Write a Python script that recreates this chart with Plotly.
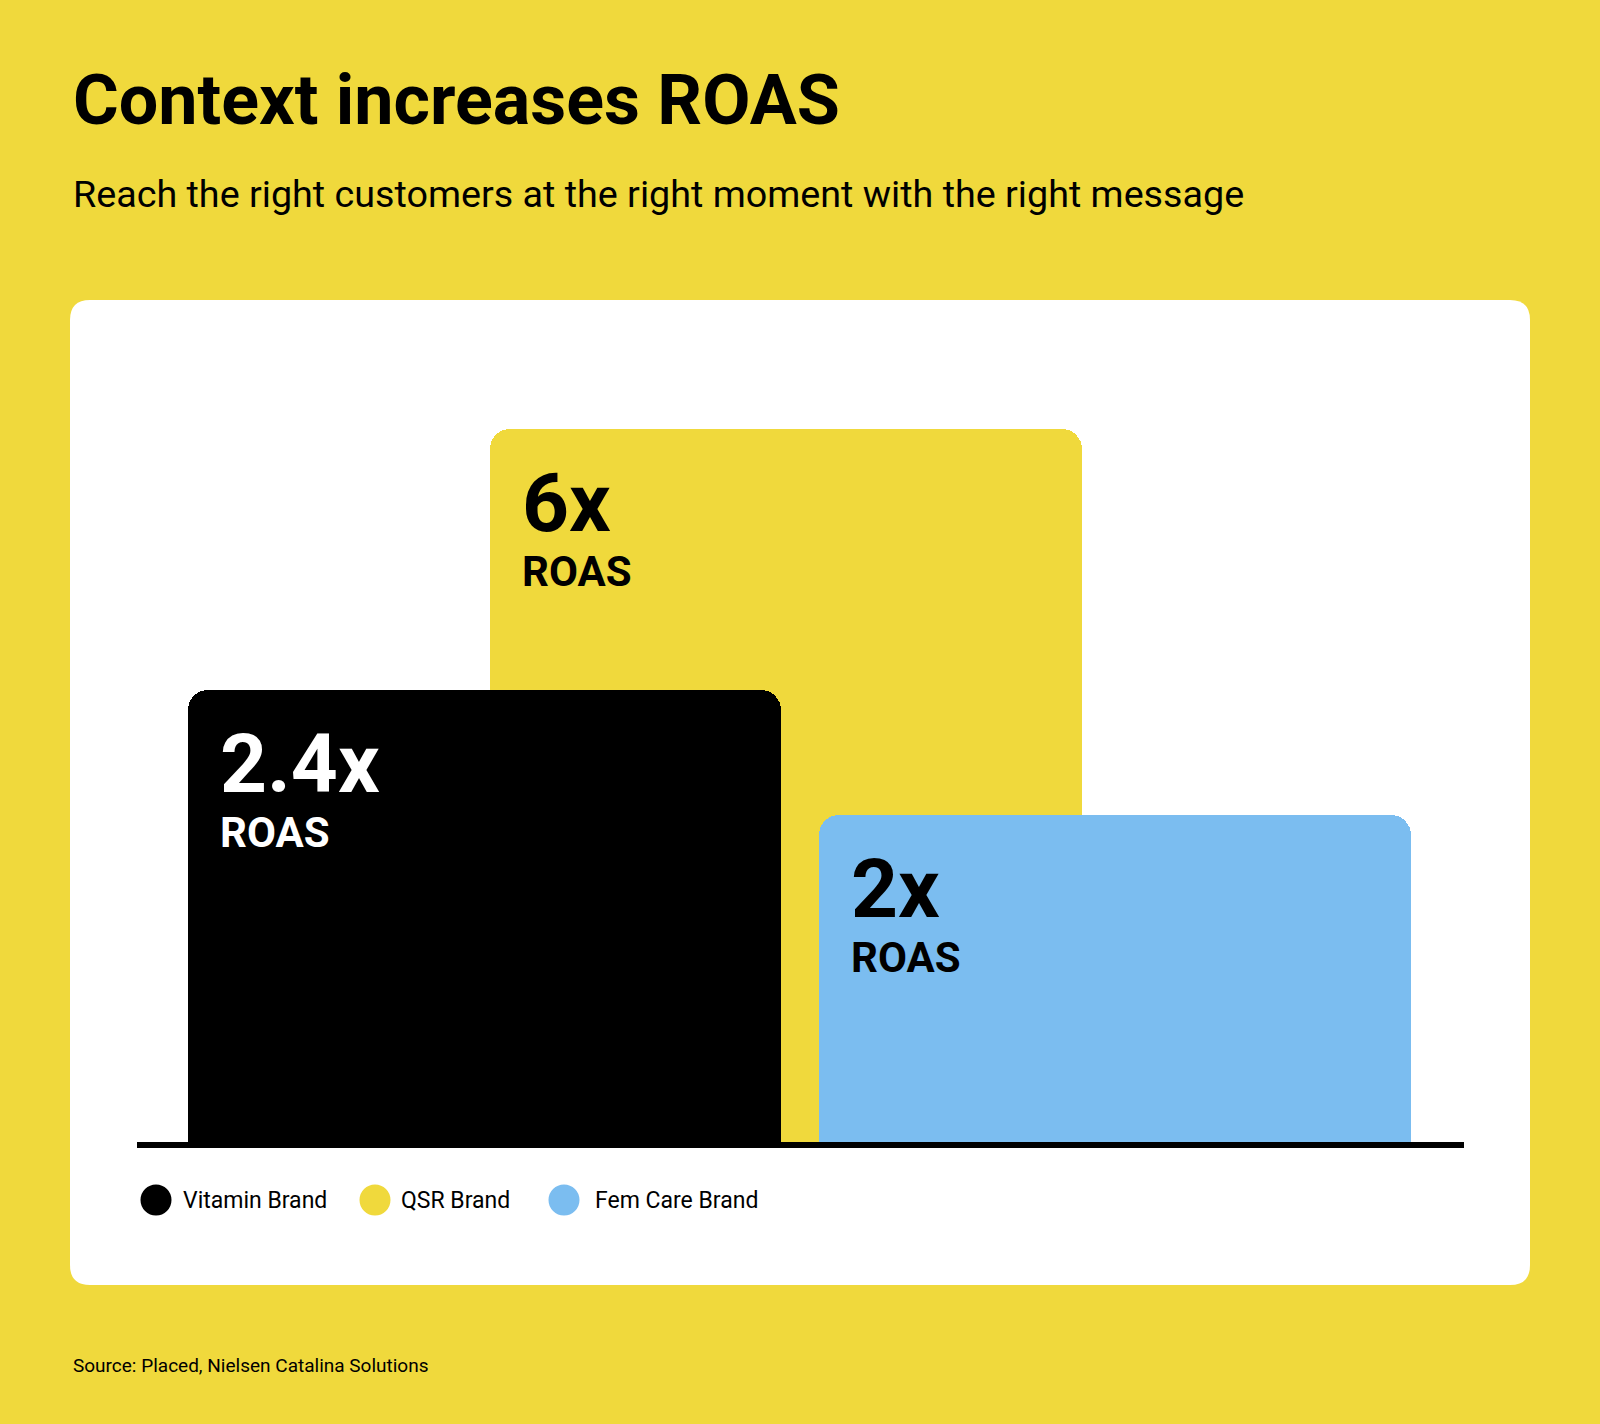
import plotly.graph_objects as go

# ---------------- data ----------------
brands = ["Vitamin Brand", "QSR Brand", "Fem Care Brand"]
roas_values = [2.4, 6, 2]
roas_labels = ["2.4x", "6x", "2x"]
# drawn bar heights (graphic is not to scale)
bar_heights = [3.8, 6.0, 2.75]
colors = ["#000000", "#F0D93C", "#7BBDF0"]
label_colors = ["#FFFFFF", "#000000", "#000000"]

title = "Context increases ROAS"
subtitle = "Reach the right customers at the right moment with the right message"
source = "Source: Placed, Nielsen Catalina Solutions"

# ---------------- layout helpers ----------------
W, H = 1600, 1424
BG = "#F0D93C"
FONT = "Roboto"


def px(x):
    return x / W


def py(y):
    return 1 - y / H


centres = [0.0, 1.0, 2.092]
bar_width = 1.965
draw_order = [1, 0, 2]  # QSR behind the others

fig = go.Figure()
for i in draw_order:
    fig.add_trace(go.Bar(
        x=[centres[i]], y=[bar_heights[i]], width=[bar_width],
        marker=dict(color=colors[i], line=dict(width=0), cornerradius=20),
        name=brands[i], showlegend=False, hoverinfo="skip",
    ))

annotations = []
for i in range(3):
    left = centres[i] - bar_width / 2
    annotations.append(dict(
        x=left, y=bar_heights[i], xref="x", yref="y", xanchor="left", yanchor="top",
        xshift=30, yshift=-24, showarrow=False, align="left",
        text="<b><span style='font-size:82px'>%s</span><br>ROAS</b>" % roas_labels[i],
        font=dict(family=FONT, size=42, color=label_colors[i]),
    ))

# title, subtitle, source
annotations.append(dict(x=px(71), y=py(57), xref="paper", yref="paper", xanchor="left",
                        yanchor="top", showarrow=False, text="<b>%s</b>" % title,
                        font=dict(family=FONT, size=70, color="#000000")))
annotations.append(dict(x=px(71), y=py(170), xref="paper", yref="paper", xanchor="left",
                        yanchor="top", showarrow=False, text=subtitle,
                        font=dict(family=FONT, size=37.7, color="#000000")))
annotations.append(dict(x=px(71), y=py(1365), xref="paper", yref="paper", xanchor="left",
                        yanchor="middle", showarrow=False, text=source,
                        font=dict(family=FONT, size=19, color="#000000")))

shapes = []
# white card with rounded corners
x0, x1, y0, y1, r = 70, 1530, 300, 1285, 20
rx, ry = r / W, r / H
X0, X1, Y0, Y1 = px(x0), px(x1), py(y1), py(y0)
path = (f"M {X0+rx},{Y1} L {X1-rx},{Y1} Q {X1},{Y1} {X1},{Y1-ry} "
        f"L {X1},{Y0+ry} Q {X1},{Y0} {X1-rx},{Y0} L {X0+rx},{Y0} "
        f"Q {X0},{Y0} {X0},{Y0+ry} L {X0},{Y1-ry} Q {X0},{Y1} {X0+rx},{Y1} Z")
shapes.append(dict(type="path", path=path, xref="paper", yref="paper",
                   fillcolor="#FFFFFF", line=dict(width=0), layer="below"))

# legend: circles + labels
legend_circle_x = [156, 375, 564]
legend_text_x = [181, 399, 593]
leg_y, d = 1200, 31
for i in range(3):
    cx = legend_circle_x[i]
    shapes.append(dict(type="circle", xref="paper", yref="paper",
                       x0=px(cx - d / 2), x1=px(cx + d / 2), y0=py(leg_y + d / 2), y1=py(leg_y - d / 2),
                       fillcolor=colors[i], line=dict(width=0), layer="above"))
    annotations.append(dict(x=px(legend_text_x[i]), y=py(leg_y), xref="paper", yref="paper",
                            xanchor="left", yanchor="middle", showarrow=False, text=brands[i],
                            font=dict(family=FONT, size=23, color="#000000")))

unit = 301.5
plot_left, plot_right, base_y, top_y = 137, 1464, 1142, 300
yscale = 713 / bar_heights[1]

fig.update_layout(
    width=W, height=H, margin=dict(l=0, r=0, t=0, b=0),
    paper_bgcolor=BG, plot_bgcolor="rgba(0,0,0,0)",
    barmode="overlay", bargap=0,
    xaxis=dict(domain=[px(plot_left), px(plot_right)],
               range=[(plot_left - 484.5) / unit, (plot_right - 484.5) / unit],
               showticklabels=False, ticks="", showgrid=False, zeroline=False,
               showline=True, linecolor="#000000", linewidth=6, fixedrange=True),
    yaxis=dict(domain=[py(base_y), py(top_y)], range=[0, (base_y - top_y) / yscale],
               visible=False, showgrid=False, zeroline=False, fixedrange=True),
    shapes=shapes, annotations=annotations, showlegend=False,
)

fig.write_html("out.html", config={"displayModeBar": False})
